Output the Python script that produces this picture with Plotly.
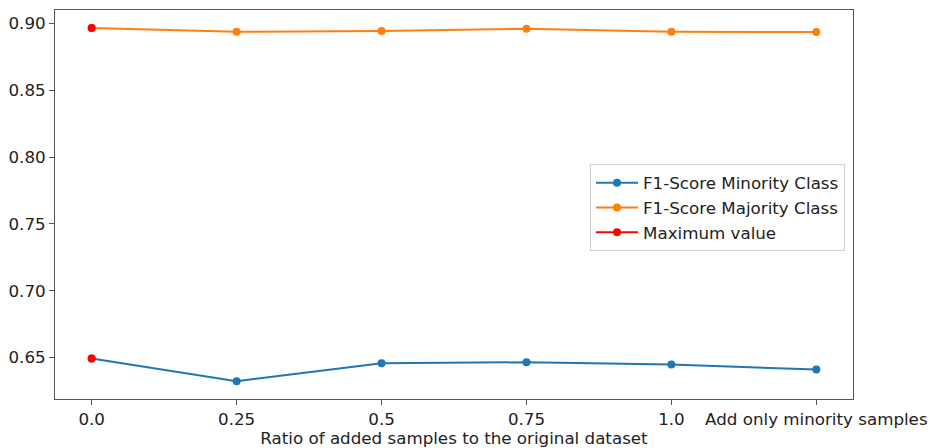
import plotly.graph_objects as go

categories = ["0.0", "0.25", "0.5", "0.75", "1.0", "Add only minority samples"]
minority_f1 = [0.6493, 0.6323, 0.6457, 0.6465, 0.6448, 0.6410]
majority_f1 = [0.8965, 0.8937, 0.8942, 0.8960, 0.8937, 0.8935]
max_x = [categories[0], None, categories[0]]
max_y = [minority_f1[0], None, majority_f1[0]]
y_ticks = [0.65, 0.70, 0.75, 0.80, 0.85, 0.90]

FONT = "DejaVu Sans"
FS = 16.7
fig = go.Figure()
fig.add_trace(go.Scatter(x=categories, y=minority_f1, mode="lines+markers",
                         name="F1-Score Minority Class",
                         line=dict(color="#1f77b4", width=2),
                         marker=dict(color="#1f77b4", size=8)))
fig.add_trace(go.Scatter(x=categories, y=majority_f1, mode="lines+markers",
                         name="F1-Score Majority Class",
                         line=dict(color="#ff7f0e", width=2),
                         marker=dict(color="#ff7f0e", size=8)))
fig.add_trace(go.Scatter(x=max_x, y=max_y, mode="lines+markers",
                         name="Maximum value", connectgaps=False,
                         line=dict(color="#ff0000", width=2),
                         marker=dict(color="#ff0000", size=8)))

fig.update_layout(
    width=932, height=448,
    margin=dict(l=55, r=79, t=10, b=49, autoexpand=False),
    paper_bgcolor="white", plot_bgcolor="white",
    font=dict(family=FONT, size=FS, color="#222"),
    showlegend=True,
    legend=dict(x=0.99, y=0.603, xanchor="right", yanchor="top",
                bgcolor="white", bordercolor="#d0d0d0", borderwidth=1,
                font=dict(family=FONT, size=FS, color="#222"),
                tracegroupgap=0, itemwidth=42),
    xaxis=dict(type="category", categoryorder="array", categoryarray=categories,
               range=[-0.253, 5.253], showgrid=False, zeroline=False,
               automargin=False,
               showline=True, linecolor="#555", linewidth=1, mirror=True,
               ticks="outside", ticklen=5, tickcolor="#555",
               tickfont=dict(family=FONT, size=FS, color="#222"),
               title=dict(text="Ratio of added samples to the original dataset",
                          font=dict(family=FONT, size=FS, color="#222"), standoff=1)),
    yaxis=dict(range=[0.6190, 0.9100], tickvals=y_ticks,
               ticktext=[f"{v:.2f}" for v in y_ticks],
               showgrid=False, zeroline=False, automargin=False,
               showline=True, linecolor="#555", linewidth=1, mirror=True,
               ticks="outside", ticklen=5, tickcolor="#555",
               tickfont=dict(family=FONT, size=FS, color="#222")),
)

fig.write_html("out.html")
